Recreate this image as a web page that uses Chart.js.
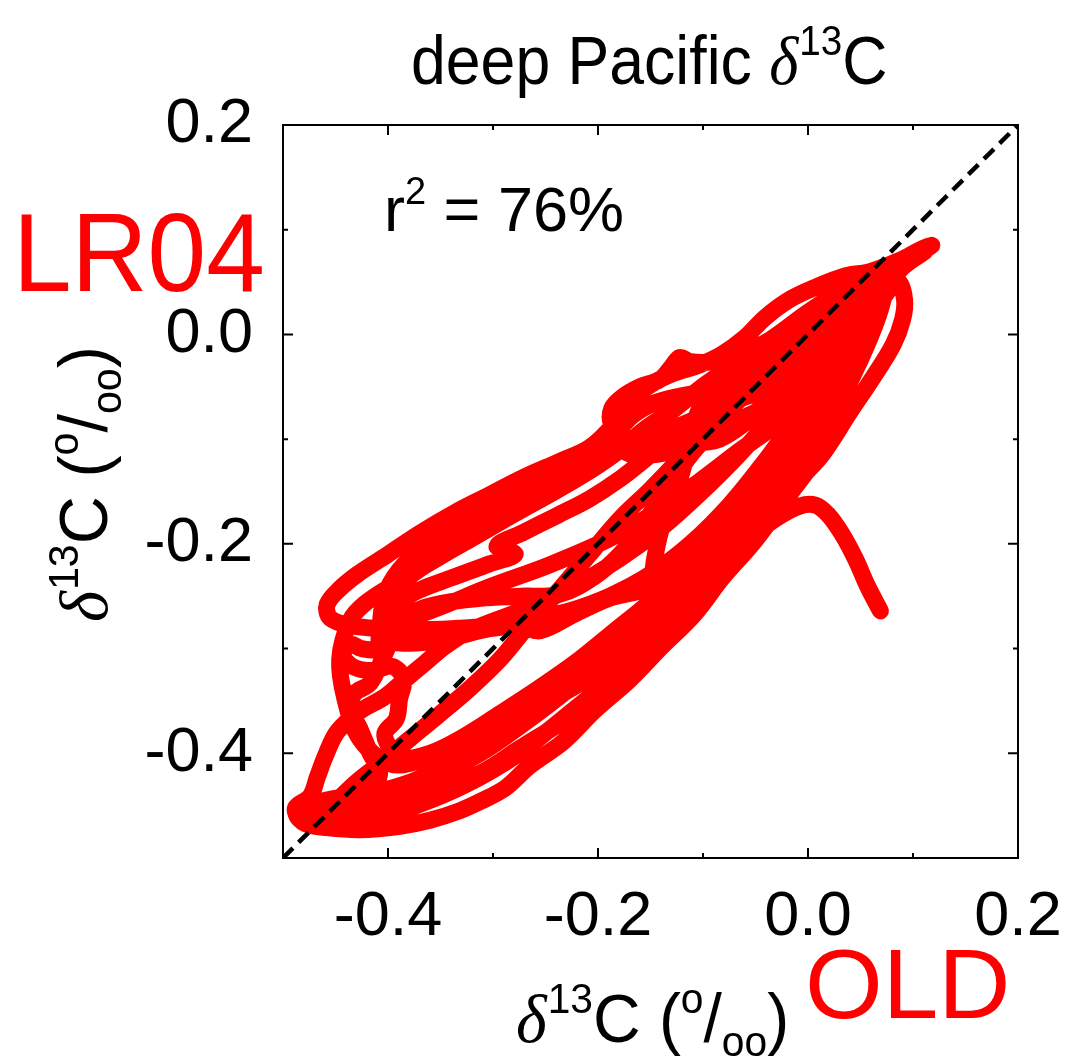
<!DOCTYPE html>
<html>
<head>
<meta charset="utf-8">
<script src="https://cdn.jsdelivr.net/npm/chart.js@4.4.0/dist/chart.umd.min.js"></script>
<style>
  html, body { margin: 0; padding: 0; background: #fff; }
  #wrap { width: 1065px; height: 1056px; }
</style>
</head>
<body>
<div id="wrap"><canvas id="chart"></canvas></div>
<script>
// deep Pacific d13C: LR04 stack vs OLD model run, plotted as a trajectory
const trajX = [
  0.069, 0.057, 0.045, 0.032, 0.019, 0.007, -0.008, -0.031, -0.053, -0.079, -0.103, -0.131, -0.160, -0.198, -0.236, -0.278, -0.326, -0.373, -0.417, -0.455, -0.484,
  -0.488, -0.474, -0.467, -0.459, -0.448, -0.427, -0.403, -0.384, -0.365, -0.346, -0.322, -0.274, -0.227, -0.179, -0.141, -0.103, -0.065, -0.027, 0.007, 0.035, 0.059, 0.083, 0.105, 0.118,
  0.107, 0.088, 0.059, 0.036, 0.007, -0.018, -0.041, -0.060, -0.082, -0.103, -0.130, -0.150, -0.168, -0.185, -0.208, -0.236, -0.270, -0.305, -0.336, -0.370, -0.400, -0.429, -0.446, -0.458, -0.455, -0.436, -0.408, -0.369, -0.323, -0.293, -0.260,
  -0.227, -0.189, -0.150, -0.112, -0.074, -0.041, -0.008, 0.026, 0.051, 0.070, 0.086, 0.092, 0.090, 0.081, 0.062, 0.040, 0.014, -0.009, -0.031, -0.053, -0.082, -0.108, -0.141, -0.170, -0.203, -0.233, -0.265, -0.288, -0.312, -0.332, -0.360, -0.390, -0.427, -0.458, -0.479, -0.487,
  -0.476, -0.455, -0.427, -0.403, -0.370, -0.341, -0.310, -0.278, -0.246, -0.214, -0.183, -0.150, -0.114, -0.082, -0.050, -0.022, 0.004, 0.026, 0.042, 0.057, 0.069, 0.072,
  0.059, 0.030, -0.001, -0.033, -0.065, -0.093, -0.122, -0.150, -0.179, -0.208, -0.239, -0.271, -0.296,
  -0.279, -0.303, -0.341, -0.376, -0.398, -0.408, -0.410,
  -0.425, -0.436, -0.443, -0.434, -0.415, -0.396, -0.385, -0.389, -0.392, -0.403, -0.398, -0.387,
  -0.360, -0.331, -0.293, -0.255, -0.217, -0.184, -0.150, -0.117, -0.084, -0.055, -0.029, -0.008, 0.016, 0.040, 0.057, 0.064,
  0.050, 0.026, -0.003, -0.036, -0.065, -0.091, -0.112, -0.122, -0.130, -0.141, -0.160, -0.177, -0.187, -0.187, -0.177,
  -0.198, -0.227, -0.255, -0.287, -0.319, -0.350, -0.379, -0.398, -0.406, -0.404,
  -0.379, -0.341, -0.303, -0.274, -0.255, -0.222, -0.189, -0.160, -0.127, -0.098, -0.074, -0.046, -0.022, -0.003, 0.016, 0.032, 0.040,
  0.029, 0.007, -0.017, -0.036, -0.046, -0.065, -0.084, -0.103, -0.122, -0.141, -0.160, -0.179, -0.203, -0.236, -0.274, -0.312, -0.350, -0.379, -0.394,
  -0.403, -0.417, -0.432, -0.436, -0.427, -0.417, -0.408, -0.417, -0.441, -0.465, -0.484,
  -0.474, -0.436, -0.389, -0.350, -0.312, -0.274, -0.236, -0.198, -0.170, -0.154, -0.150, -0.146, -0.137, -0.122, -0.112, -0.103, -0.084, -0.060, -0.036, -0.034,
  -0.046, -0.070, -0.098, -0.127, -0.150, -0.171, -0.184, -0.170, -0.141, -0.112, -0.084, -0.055, -0.031, -0.008, 0.016, 0.045, 0.069, 0.092, 0.111,
  0.088, 0.069, 0.051, 0.032, 0.007, -0.022, -0.050, -0.084, -0.117, -0.150, -0.189, -0.227, -0.270, -0.312, -0.350, -0.389, -0.427, -0.455,
  -0.436, -0.408, -0.379, -0.350, -0.322, -0.293, -0.265, -0.236, -0.208, -0.179, -0.150, -0.122, -0.093, -0.065, -0.036, -0.008, 0.021, 0.040,
  0.016, -0.012, -0.041, -0.070, -0.098, -0.127, -0.155, -0.184, -0.217, -0.250, -0.284, -0.317, -0.350, -0.379, -0.394, -0.389,
  -0.360, -0.303, -0.246, -0.189, -0.141, -0.103, -0.065, -0.031, -0.008,
  -0.036, -0.074, -0.112, -0.160, -0.208, -0.255, -0.293,
  -0.322, -0.360, -0.394, -0.422, -0.436,
  -0.446, -0.441, -0.427, -0.398,
  -0.370, -0.312, -0.255, -0.198, -0.141, -0.093, -0.046, -0.008, 0.021, 0.045
];
const trajY = [
  -0.264, -0.241, -0.214, -0.190, -0.172, -0.163, -0.164, -0.176, -0.193, -0.214, -0.243, -0.276, -0.305, -0.338, -0.369, -0.402, -0.430, -0.450, -0.464, -0.467, -0.462,
  -0.452, -0.441, -0.422, -0.401, -0.379, -0.360, -0.346, -0.330, -0.314, -0.298, -0.283, -0.264, -0.243, -0.214, -0.186, -0.152, -0.114, -0.071, -0.029, 0.010, 0.038, 0.062, 0.077, 0.085,
  0.081, 0.071, 0.060, 0.056, 0.045, 0.033, 0.016, -0.003, -0.019, -0.029, -0.038, -0.048, -0.062, -0.086, -0.108, -0.121, -0.136, -0.154, -0.170, -0.190, -0.210, -0.229, -0.243, -0.258, -0.271, -0.278, -0.281, -0.282, -0.280, -0.277, -0.271,
  -0.264, -0.250, -0.229, -0.200, -0.162, -0.121, -0.076, -0.033, 0.005, 0.033, 0.050, 0.033, 0.014, -0.010, -0.041, -0.074, -0.114, -0.140, -0.171, -0.200, -0.233, -0.267, -0.300, -0.330, -0.359, -0.389, -0.412, -0.433, -0.446, -0.455, -0.464, -0.470, -0.473, -0.471, -0.467, -0.458,
  -0.450, -0.444, -0.439, -0.435, -0.424, -0.407, -0.386, -0.365, -0.344, -0.322, -0.302, -0.281, -0.252, -0.222, -0.186, -0.148, -0.108, -0.071, -0.041, -0.008, 0.024, 0.045,
  0.043, 0.022, 0.001, -0.024, -0.050, -0.071, -0.092, -0.115, -0.138, -0.157, -0.173, -0.189, -0.202,
  -0.210, -0.219, -0.233, -0.247, -0.264, -0.286, -0.300,
  -0.300, -0.296, -0.306, -0.317, -0.321, -0.317, -0.329, -0.348, -0.367, -0.381, -0.395, -0.405,
  -0.400, -0.386, -0.362, -0.337, -0.310, -0.283, -0.255, -0.221, -0.186, -0.150, -0.111, -0.081, -0.048, -0.010, 0.024, 0.041,
  0.049, 0.038, 0.019, -0.005, -0.019, -0.026, -0.026, -0.022, -0.031, -0.043, -0.050, -0.060, -0.071, -0.086, -0.095,
  -0.110, -0.127, -0.143, -0.160, -0.178, -0.195, -0.214, -0.238, -0.264, -0.290,
  -0.295, -0.290, -0.281, -0.279, -0.283, -0.267, -0.252, -0.245, -0.233, -0.210, -0.176, -0.136, -0.100, -0.062, -0.024, 0.014, 0.033,
  0.029, 0.005, -0.024, -0.052, -0.071, -0.081, -0.090, -0.105, -0.129, -0.157, -0.186, -0.210, -0.231, -0.248, -0.250, -0.252, -0.257, -0.267, -0.286,
  -0.305, -0.333, -0.343, -0.357, -0.376, -0.400, -0.419, -0.433, -0.443, -0.448, -0.452,
  -0.462, -0.452, -0.443, -0.433, -0.419, -0.395, -0.371, -0.343, -0.314, -0.290, -0.252, -0.214, -0.176, -0.138, -0.100, -0.071, -0.052, -0.041, -0.035, -0.014,
  -0.029, -0.043, -0.054, -0.060, -0.067, -0.081, -0.100, -0.114, -0.114, -0.105, -0.100, -0.081, -0.062, -0.038, -0.014, 0.014, 0.043, 0.067, 0.079,
  0.062, 0.033, -0.005, -0.043, -0.086, -0.129, -0.167, -0.203, -0.238, -0.271, -0.305, -0.338, -0.371, -0.400, -0.419, -0.433, -0.448, -0.455,
  -0.433, -0.410, -0.386, -0.362, -0.338, -0.310, -0.276, -0.243, -0.210, -0.176, -0.148, -0.119, -0.090, -0.062, -0.038, -0.019, 0.005, 0.019,
  0.022, 0.010, -0.010, -0.029, -0.048, -0.071, -0.090, -0.114, -0.136, -0.155, -0.174, -0.193, -0.212, -0.231, -0.252, -0.271,
  -0.264, -0.241, -0.220, -0.195, -0.167, -0.140, -0.111, -0.086, -0.062,
  -0.054, -0.065, -0.083, -0.102, -0.121, -0.142, -0.162,
  -0.190, -0.214, -0.238, -0.257, -0.273,
  -0.310, -0.348, -0.386, -0.410,
  -0.407, -0.383, -0.355, -0.321, -0.278, -0.235, -0.188, -0.140, -0.100, -0.062
];
const axisMin = -0.5;
const axisMax = 0.2;
const labelTicks = [-0.4, -0.2, 0.0, 0.2];
const minorTicks = [-0.4, -0.3, -0.2, -0.1, 0.0, 0.1];
const oneToOne = [-0.5, 0.2];

const SANS = '"Liberation Sans", Arial, sans-serif';
const SERIF = '"Liberation Serif", "Times New Roman", serif';

function drawRuns(ctx, runs, x, y, scaleX, angle) {
  ctx.save();
  ctx.translate(x, y);
  if (angle) ctx.rotate(angle);
  ctx.scale(scaleX, 1);
  ctx.textAlign = 'left';
  ctx.textBaseline = 'alphabetic';
  let cx = 0;
  runs.forEach(r => {
    ctx.font = r.font;
    ctx.fillText(r.t, cx, r.dy || 0);
    cx += ctx.measureText(r.t).width + (r.gap || 0);
  });
  ctx.restore();
}

// d13C (o/oo) label pieces
function isoRuns(s) {
  return [
    { t: '\u03B4', font: 'italic ' + s + 'px ' + SERIF, gap: 1 },
    { t: '13', font: Math.round(s * 0.62) + 'px ' + SANS, dy: -s * 0.42 },
    { t: 'C (', font: s + 'px ' + SANS },
    { t: 'o', font: Math.round(s * 0.62) + 'px ' + SANS, dy: -s * 0.42 },
    { t: '/', font: s + 'px ' + SANS },
    { t: 'oo', font: Math.round(s * 0.62) + 'px ' + SANS, dy: s * 0.2 },
    { t: ')', font: s + 'px ' + SANS }
  ];
}

const framePlugin = {
  id: 'frame',
  afterDraw(chart) {
    const { ctx, chartArea: a, scales } = chart;
    ctx.save();
    ctx.strokeStyle = '#000';
    ctx.lineWidth = 2;
    ctx.strokeRect(a.left, a.top, a.right - a.left, a.bottom - a.top);
    // inward ticks on all four sides
    minorTicks.forEach(v => {
      const major = labelTicks.some(t => Math.abs(t - v) < 1e-9);
      const len = major ? 10 : 5;
      const px = scales.x.getPixelForValue(v);
      const py = scales.y.getPixelForValue(v);
      ctx.beginPath();
      ctx.moveTo(px, a.bottom); ctx.lineTo(px, a.bottom - len);
      ctx.moveTo(px, a.top); ctx.lineTo(px, a.top + len);
      ctx.moveTo(a.left, py); ctx.lineTo(a.left + len, py);
      ctx.moveTo(a.right, py); ctx.lineTo(a.right - len, py);
      ctx.stroke();
    });
    ctx.restore();
  }
};

const textPlugin = {
  id: 'labels',
  afterDraw(chart) {
    const ctx = chart.ctx;
    ctx.fillStyle = '#000';
    drawRuns(ctx, [
      { t: 'deep Pacific ', font: '68px ' + SANS },
      { t: '\u03B4', font: 'italic 68px ' + SERIF, gap: 1 },
      { t: '13', font: '42px ' + SANS, dy: -29 },
      { t: 'C', font: '68px ' + SANS }
    ], 411, 84, 0.92, 0);
    drawRuns(ctx, [
      { t: 'r', font: '63px ' + SANS },
      { t: '2', font: '38px ' + SANS, dy: -27 },
      { t: ' = 76%', font: '63px ' + SANS }
    ], 384, 231, 1, 0);
    drawRuns(ctx, isoRuns(68), 516, 1042, 0.97, 0);
    drawRuns(ctx, isoRuns(68), 107, 622, 0.98, -Math.PI / 2);
    ctx.fillStyle = '#ff0000';
    drawRuns(ctx, [{ t: 'LR04', font: '112px ' + SANS }], 13, 291, 0.94, 0);
    drawRuns(ctx, [{ t: 'OLD', font: '98px ' + SANS }], 805, 1018, 1.02, 0);
  }
};

const axisTicks = scale => {
  scale.ticks = labelTicks.map(v => ({ value: v }));
};

new Chart(document.getElementById('chart'), {
  type: 'scatter',
  data: {
    datasets: [
      {
        data: oneToOne.map(v => ({ x: v, y: v })),
        showLine: true,
        borderColor: '#000',
        borderWidth: 4.5,
        borderDash: [14, 8],
        pointRadius: 0
      },
      {
        data: trajX.map((x, i) => ({ x: x, y: trajY[i] })),
        showLine: true,
        borderColor: '#ff0000',
        borderWidth: 17,
        borderCapStyle: 'round',
        borderJoinStyle: 'round',
        tension: 0.35,
        pointRadius: 0
      }
    ]
  },
  options: {
    responsive: true,
    maintainAspectRatio: false,
    animation: false,
    layout: { padding: { top: 125, right: 47, left: 0, bottom: 0 } },
    plugins: { legend: { display: false }, tooltip: { enabled: false } },
    scales: {
      x: {
        type: 'linear',
        min: axisMin,
        max: axisMax,
        afterBuildTicks: axisTicks,
        afterFit: s => { s.height = 198; s.paddingLeft = 0; s.paddingRight = 0; },
        grid: { display: false, drawTicks: false },
        border: { display: false },
        ticks: {
          padding: 22,
          color: '#000',
          font: { family: SANS, size: 63 },
          callback: v => v.toFixed(1)
        }
      },
      y: {
        type: 'linear',
        min: axisMin,
        max: axisMax,
        afterBuildTicks: axisTicks,
        afterFit: s => { s.width = 283; s.paddingTop = 0; s.paddingBottom = 0; },
        grid: { display: false, drawTicks: false },
        border: { display: false },
        ticks: {
          padding: 30,
          color: '#000',
          font: { family: SANS, size: 63 },
          callback: v => v.toFixed(1)
        }
      }
    }
  },
  plugins: [framePlugin, textPlugin]
});
</script>
</body>
</html>
